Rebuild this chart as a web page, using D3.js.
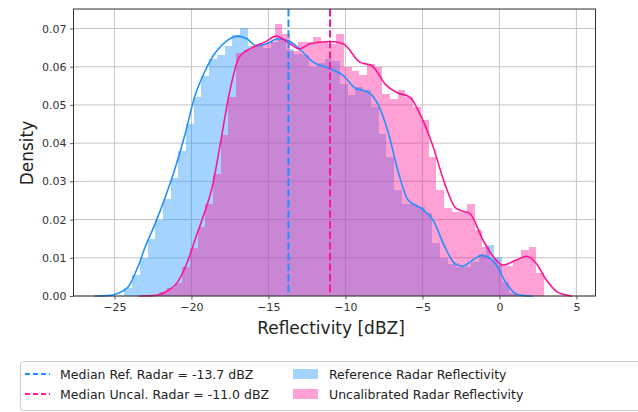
<!DOCTYPE html>
<html>
<head>
<meta charset="utf-8">
<script src="https://cdn.jsdelivr.net/npm/d3@7"></script>
<style>
  html, body { margin: 0; padding: 0; background: #fff; }
  svg { display: block; font-family: "DejaVu Sans", sans-serif; }
</style>
</head>
<body>
<svg id="chart" width="638" height="412"></svg>
<script>
// Histogram bins (density per 0.5 dBZ bin)
const binWidth = 0.5;
const refStart = -24.35;
const refDensity = [
  0.002, 0.0055, 0.010, 0.015, 0.020, 0.0255, 0.031, 0.038, 0.045, 0.052,
  0.0575, 0.0620, 0.063, 0.0655, 0.0684, 0.0702, 0.0655, 0.066, 0.065, 0.0665,
  0.067, 0.0647, 0.0634, 0.063, 0.0599, 0.061, 0.062, 0.0616, 0.0555, 0.0525,
  0.0546, 0.054, 0.0494, 0.0425, 0.0364, 0.0277, 0.0242, 0.024, 0.0233, 0.0216,
  0.0138, 0.0099, 0.0085, 0.0077, 0.0077, 0.009, 0.0111, 0.0133, 0.0103, 0.0037,
  0.0007
];
const uncalStart = -22.1;
const uncalDensity = [
  0.001, 0.002, 0.0035, 0.0075, 0.0125, 0.018, 0.024, 0.032, 0.042, 0.052,
  0.0635, 0.0645, 0.0655, 0.066, 0.0665, 0.0712, 0.0686, 0.064, 0.0664, 0.0664,
  0.0679, 0.0664, 0.066, 0.0686, 0.060, 0.059, 0.0577, 0.0608, 0.060, 0.0529,
  0.0516, 0.0538, 0.052, 0.0494, 0.046, 0.0364, 0.0277, 0.023, 0.022, 0.022,
  0.0242, 0.0172, 0.0129, 0.0098, 0.0081, 0.0078, 0.0094, 0.012, 0.0129, 0.0059
];

// Kernel density estimates: [dBZ, density]
const refKde = [
  [-26.3, 0], [-25.5, 0.0001], [-25, 0.0004], [-24.5, 0.0012], [-24.1, 0.0024],
  [-23.47, 0.0077], [-23.0, 0.0129], [-22.35, 0.019], [-21.7, 0.0259], [-21.1, 0.0329],
  [-20.4, 0.0425], [-19.8, 0.052], [-19.1, 0.059], [-18.5, 0.0634], [-18.15, 0.0651],
  [-17.3, 0.0677], [-17.0, 0.068], [-16.4, 0.0673], [-15.8, 0.0655], [-15.1, 0.066],
  [-14.4, 0.0673], [-13.7, 0.0668], [-13.0, 0.0647], [-12.1, 0.0612], [-11.0, 0.0595],
  [-10.15, 0.0577], [-9.4, 0.0545], [-8.5, 0.0533], [-7.9, 0.0503], [-7.2, 0.0425],
  [-6.6, 0.0329], [-5.93, 0.0251], [-5.06, 0.0229], [-4.3, 0.0198], [-3.55, 0.0129],
  [-2.9, 0.0085], [-2.4, 0.0078], [-1.8, 0.0092], [-1.17, 0.0106], [-0.6, 0.0098],
  [-0.2, 0.0081], [0.45, 0.0033], [1.1, 0.0005], [1.6, 0.0001], [2.2, 0]
];
const uncalKde = [
  [-23.4, 0], [-22.5, 0.0001], [-22.05, 0.0004], [-21.5, 0.0015], [-20.96, 0.0033],
  [-20.3, 0.0085], [-19.7, 0.0155], [-19.25, 0.0207], [-18.6, 0.0294], [-18.2, 0.0381],
  [-17.5, 0.0538], [-16.9, 0.0625], [-16.0, 0.0651], [-15.2, 0.0665], [-14.5, 0.068],
  [-13.6, 0.066], [-13.0, 0.0647], [-12.3, 0.066], [-11.7, 0.0664], [-11.0, 0.0666],
  [-10.15, 0.066], [-9.07, 0.0612], [-8.3, 0.0603], [-7.34, 0.0551], [-6.7, 0.0533],
  [-5.8, 0.052], [-5.17, 0.0477], [-4.3, 0.039], [-3.55, 0.0294], [-2.9, 0.0233],
  [-2.58, 0.0225], [-1.93, 0.0216], [-1.06, 0.0146], [-0.4, 0.0103], [0.23, 0.0081],
  [1.1, 0.0094], [1.75, 0.0104], [2.4, 0.0085], [3.05, 0.0042], [3.9, 0.0007], [4.7, 0]
];

// Medians (dBZ)
const medianRef = -13.7;
const medianUncal = -11.0;

const xTicks = [-25, -20, -15, -10, -5, 0, 5];
const yTicks = [0.00, 0.01, 0.02, 0.03, 0.04, 0.05, 0.06, 0.07];

const legendLines = [
  { label: "Median Ref. Radar = -13.7 dBZ", color: "#1e90ff" },
  { label: "Median Uncal. Radar = -11.0 dBZ", color: "#ff1493" }
];
const legendPatches = [
  { label: "Reference Radar Reflectivity", color: "#1e90ff" },
  { label: "Uncalibrated Radar Reflectivity", color: "#ff1493" }
];

const blue = "#1e90ff";
const pink = "#ff1493";

const svg = d3.select("#chart");
const plot = { left: 73.5, right: 595.5, top: 9, bottom: 296 };

const x = d3.scaleLinear().domain([-27.66, 6.24]).range([plot.left, plot.right]);
const y = d3.scaleLinear().domain([0, 0.0751]).range([plot.bottom, plot.top]);

// Grid
const grid = svg.append("g");
grid.selectAll("line.vx").data(xTicks).join("line")
  .attr("x1", d => x(d)).attr("x2", d => x(d))
  .attr("y1", plot.top).attr("y2", plot.bottom)
  .attr("stroke", "#c4c4c4").attr("stroke-width", 1);
grid.selectAll("line.hy").data(yTicks).join("line")
  .attr("x1", plot.left).attr("x2", plot.right)
  .attr("y1", d => y(d)).attr("y2", d => y(d))
  .attr("stroke", "#c4c4c4").attr("stroke-width", 1);

// Histograms
function drawHist(values, start, color) {
  svg.append("g").selectAll("rect").data(values).join("rect")
    .attr("x", (d, i) => x(start + i * binWidth))
    .attr("width", (d, i) => x(start + (i + 1) * binWidth) - x(start + i * binWidth))
    .attr("y", d => y(d))
    .attr("height", d => y(0) - y(d))
    .attr("fill", color)
    .attr("fill-opacity", 0.4)
    .attr("shape-rendering", "crispEdges");
}
drawHist(refDensity, refStart, blue);
drawHist(uncalDensity, uncalStart, pink);

// KDE lines
const line = d3.line().x(d => x(d[0])).y(d => y(d[1])).curve(d3.curveMonotoneX);
svg.append("path").datum(refKde).attr("d", line)
  .attr("fill", "none").attr("stroke", blue).attr("stroke-width", 1.6);
svg.append("path").datum(uncalKde).attr("d", line)
  .attr("fill", "none").attr("stroke", pink).attr("stroke-width", 1.6);

// Median lines
[[medianRef, blue], [medianUncal, pink]].forEach(([m, c]) => {
  svg.append("line")
    .attr("x1", x(m)).attr("x2", x(m))
    .attr("y1", plot.top).attr("y2", plot.bottom)
    .attr("stroke", c).attr("stroke-width", 2)
    .attr("stroke-dasharray", "7.4,3.2");
});

// Axes
const fmtX = d => (d < 0 ? "\u2212" + Math.abs(d) : String(d));
const xAxis = svg.append("g")
  .attr("transform", `translate(0,${plot.bottom})`)
  .call(d3.axisBottom(x).tickValues(xTicks).tickFormat(fmtX).tickSize(3.5).tickPadding(3.5));
const yAxis = svg.append("g")
  .attr("transform", `translate(${plot.left},0)`)
  .call(d3.axisLeft(y).tickValues(yTicks).tickFormat(d3.format(".2f")).tickSize(3.5).tickPadding(3.5));
[xAxis, yAxis].forEach(a => {
  a.select(".domain").remove();
  a.selectAll(".tick line").attr("stroke", "#333").attr("stroke-width", 0.8);
  a.selectAll(".tick text").attr("fill", "#333")
    .style("font-family", "DejaVu Sans").style("font-size", "11px");
});

// Frame
svg.append("rect")
  .attr("x", plot.left).attr("y", plot.top)
  .attr("width", plot.right - plot.left).attr("height", plot.bottom - plot.top)
  .attr("fill", "none").attr("stroke", "#333").attr("stroke-width", 1);

// Axis labels
svg.append("text")
  .attr("x", 331).attr("y", 334)
  .attr("text-anchor", "middle")
  .attr("fill", "#222")
  .style("font-size", "17px")
  .text("Reflectivity [dBZ]");
svg.append("text")
  .attr("transform", "translate(33,153) rotate(-90)")
  .attr("text-anchor", "middle")
  .attr("fill", "#222")
  .style("font-size", "17px")
  .text("Density");

// Legend
const lg = svg.append("g");
lg.append("rect")
  .attr("x", 20.5).attr("y", 361.5).attr("width", 640).attr("height", 49)
  .attr("rx", 3).attr("fill", "#fff").attr("stroke", "#cccccc").attr("stroke-width", 1);
legendLines.forEach((d, i) => {
  const yy = 374 + i * 20;
  lg.append("line")
    .attr("x1", 25).attr("x2", 50).attr("y1", yy).attr("y2", yy)
    .attr("stroke", d.color).attr("stroke-width", 2).attr("stroke-dasharray", "5,3");
  lg.append("text")
    .attr("x", 60).attr("y", yy + 4.6)
    .attr("fill", "#222").style("font-size", "12.5px")
    .text(d.label);
});
legendPatches.forEach((d, i) => {
  const yy = 374 + i * 20;
  lg.append("rect")
    .attr("x", 293).attr("y", yy - 5).attr("width", 25).attr("height", 10)
    .attr("fill", d.color).attr("fill-opacity", 0.4);
  lg.append("text")
    .attr("x", 329).attr("y", yy + 4.6)
    .attr("fill", "#222").style("font-size", "12.5px")
    .text(d.label);
});
</script>
</body>
</html>
